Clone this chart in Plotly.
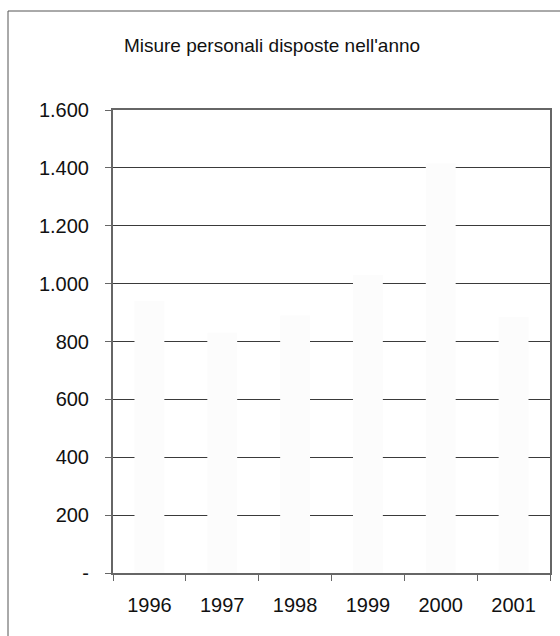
import plotly.graph_objects as go

years = ["1996", "1997", "1998", "1999", "2000", "2001"]
misure = [940, 830, 890, 1030, 1415, 885]

y_tickvals = [0, 200, 400, 600, 800, 1000, 1200, 1400, 1600]
y_ticktext = ["-", "200", "400", "600", "800", "1.000", "1.200", "1.400", "1.600"]

W, H = 560, 636
L, R, T, B = 113, 10, 110, 63
pw, ph = W - L - R, H - T - B

fig = go.Figure()
fig.add_trace(go.Bar(
    x=years, y=misure,
    marker=dict(color="#fcfcfc", line=dict(width=0)),
    hoverinfo="x+y",
))

axis_col = "#666666"
fig.update_layout(
    width=W, height=H,
    margin=dict(l=L, r=R, t=T, b=B, autoexpand=False),
    paper_bgcolor="white", plot_bgcolor="white",
    font=dict(family="Liberation Sans, Arial, sans-serif", size=20, color="#111"),
    title=dict(text="Misure personali disposte nell'anno", x=272 / W, xanchor="center",
               y=1 - 45 / H, yanchor="middle", font=dict(size=19, color="#111")),
    bargap=0.59,
    showlegend=False,
    xaxis=dict(
        type="category", showgrid=False, showline=True, linecolor=axis_col, linewidth=2,
        mirror=True, ticks="outside", tickson="boundaries", ticklen=6, tickcolor=axis_col,
        tickwidth=1, ticklabelstandoff=13, zeroline=False,
    ),
    yaxis=dict(
        range=[0, 1600], tickvals=y_tickvals, ticktext=y_ticktext,
        showgrid=True, gridcolor="#3a3a3a", gridwidth=1,
        showline=True, linecolor=axis_col, linewidth=2, mirror=True,
        ticks="outside", ticklen=6, tickcolor=axis_col, tickwidth=1,
        ticklabelstandoff=12, zeroline=False,
    ),
    shapes=[dict(
        type="rect", xref="paper", yref="paper",
        x0=(8 - L) / pw, x1=1.1, y0=-0.3, y1=(H - B - 11) / ph,
        line=dict(color="#555", width=1), fillcolor="rgba(0,0,0,0)", layer="below",
    )],
)

fig.write_html(
    "out.html",
    config={"displayModeBar": False},
    post_script="document.body.style.margin='0';document.body.style.overflow='hidden';",
)
